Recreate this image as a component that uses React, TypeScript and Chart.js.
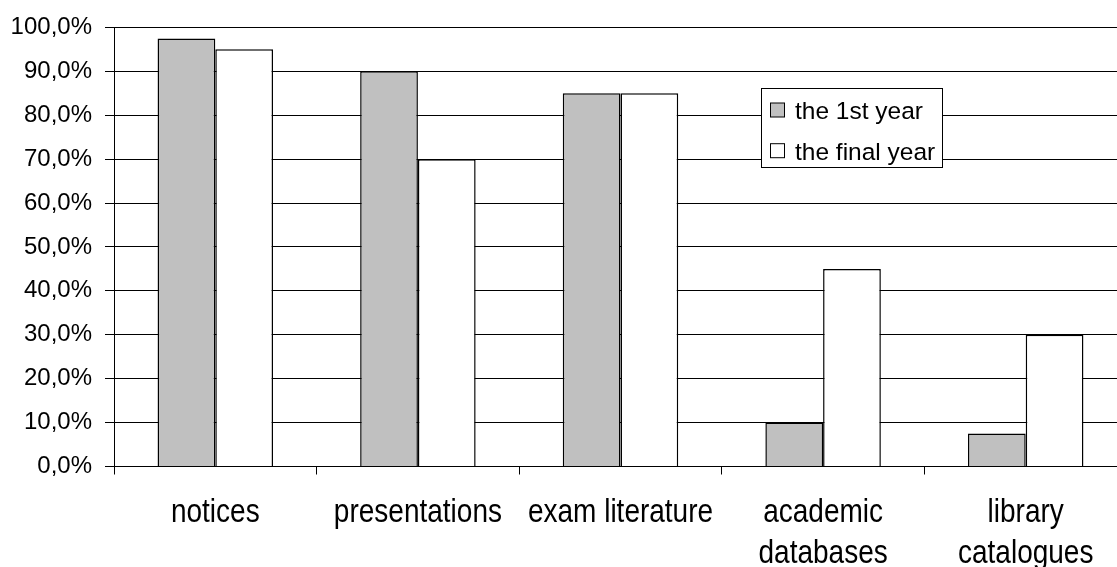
import React, { useEffect, useRef } from "react";
import { Chart, registerables } from "chart.js";

Chart.register(...registerables);

const categories: (string | string[])[] = [
  "notices",
  "presentations",
  "exam literature",
  ["academic", "databases"],
  ["library", "catalogues"],
];
const firstYear = [97.5, 90, 85, 10, 7.5];
const finalYear = [95, 70, 85, 45, 30];
const seriesNames = ["the 1st year", "the final year"];
const seriesFills = ["#c0c0c0", "#ffffff"];

const FONT = "'Liberation Sans', Arial, Helvetica, sans-serif";

// Category names under the x axis, in a slightly tall, narrow face
const categoryLabels = {
  id: "categoryLabels",
  afterDraw(chart: any) {
    const { ctx } = chart;
    const xs = chart.scales.x;
    ctx.save();
    ctx.fillStyle = "#000000";
    ctx.font = `28px ${FONT}`;
    ctx.textAlign = "center";
    ctx.textBaseline = "alphabetic";
    (chart.data.labels as (string | string[])[]).forEach((lab, i) => {
      const lines = Array.isArray(lab) ? lab : [lab];
      const px = xs.getPixelForTick(i);
      lines.forEach((line, j) => {
        ctx.save();
        ctx.translate(px, xs.top + 55 + j * 41.3);
        ctx.scale(1, 1.18);
        ctx.fillText(line, 0, 0);
        ctx.restore();
      });
    });
    ctx.restore();
  },
};

// Boxed legend drawn inside the plot area, right of centre
const boxLegend = {
  id: "boxLegend",
  afterDraw(chart: any) {
    const { ctx } = chart;
    const x = 761.5;
    const y = 88.5;
    const w = 181;
    const h = 79;
    ctx.save();
    ctx.fillStyle = "#ffffff";
    ctx.fillRect(x, y, w, h);
    ctx.strokeStyle = "#000000";
    ctx.lineWidth = 1;
    ctx.strokeRect(x, y, w, h);
    ctx.font = `24.5px ${FONT}`;
    ctx.textBaseline = "alphabetic";
    ctx.textAlign = "left";
    chart.data.datasets.forEach((ds: any, i: number) => {
      const baseline = 119.3 + i * 40.7;
      const my = 103 + i * 40.7;
      ctx.fillStyle = ds.backgroundColor;
      ctx.fillRect(770.5, my, 14, 14);
      ctx.strokeStyle = "#000000";
      ctx.strokeRect(770.5, my, 14, 14);
      ctx.fillStyle = "#000000";
      ctx.fillText(ds.label, 795, baseline);
    });
    ctx.restore();
  },
};

export default function App() {
  const canvasRef = useRef<HTMLCanvasElement | null>(null);

  useEffect(() => {
    const canvas = canvasRef.current;
    if (!canvas) return;
    const chart = new Chart(canvas, {
      type: "bar",
      data: {
        labels: categories,
        datasets: [
          {
            label: seriesNames[0],
            data: firstYear,
            backgroundColor: seriesFills[0],
            borderColor: "#000000",
            borderWidth: 1.5,
          },
          {
            label: seriesNames[1],
            data: finalYear,
            backgroundColor: seriesFills[1],
            borderColor: "#000000",
            borderWidth: 1.5,
          },
        ],
      },
      options: {
        responsive: false,
        animation: false,
        devicePixelRatio: 1,
        layout: { padding: { top: 21, right: 13, bottom: 0, left: 0 } },
        datasets: {
          bar: { categoryPercentage: 0.57, barPercentage: 1 },
        },
        plugins: {
          legend: { display: false },
          tooltip: { enabled: false },
          title: { display: false },
        },
        scales: {
          x: {
            offset: true,
            grid: {
              offset: true,
              drawOnChartArea: false,
              drawTicks: true,
              tickLength: 8,
              color: "#000000",
            },
            border: { display: true, color: "#000000", width: 1 },
            ticks: { display: false, autoSkip: false, maxRotation: 0 },
            afterFit(scale: any) {
              scale.height = 100.5;
            },
          },
          y: {
            min: 0,
            max: 100,
            grid: {
              color: "#000000",
              lineWidth: 1,
              drawTicks: true,
              tickLength: 9,
            },
            border: { display: true, color: "#000000", width: 1 },
            ticks: {
              stepSize: 10,
              color: "#000000",
              padding: 13,
              font: { family: FONT, size: 24 },
              callback: (v: any) => Number(v).toFixed(1).replace(".", ",") + "%",
            },
            afterFit(scale: any) {
              scale.width = 114;
            },
          },
        },
      },
      plugins: [categoryLabels, boxLegend],
    });
    return () => chart.destroy();
  }, []);

  return (
    <div
      style={{
        position: "absolute",
        left: 0,
        top: 0,
        width: 1117,
        height: 567,
        overflow: "hidden",
        background: "#ffffff",
      }}
    >
      <canvas
        ref={canvasRef}
        width={1140}
        height={567}
        style={{ display: "block", width: 1140, height: 567 }}
      />
    </div>
  );
}
